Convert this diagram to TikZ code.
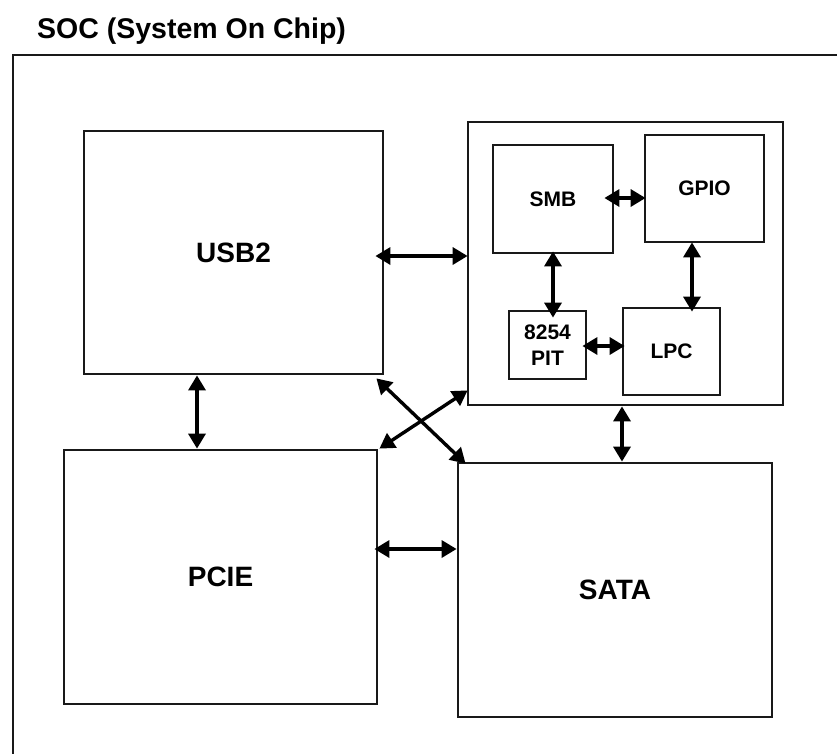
\documentclass[tikz,border=0pt]{standalone}
\usepackage{fontspec}
\setmainfont{Liberation Sans}
\usetikzlibrary{arrows.meta,calc}
\begin{document}
\begin{tikzpicture}[x=1pt,y=-1pt,
  blk/.style={draw=black!90,line width=2.8pt,rectangle,inner sep=0pt,align=center,font=\bfseries\fontsize{28}{30}\selectfont},
  sblk/.style={blk,font=\bfseries\fontsize{21}{26}\selectfont},
  arr/.style={line width=3.4pt,{Triangle[length=15pt,width=17pt]}-{Triangle[length=15pt,width=17pt]}},
  ttl/.style={font=\bfseries\fontsize{28.5}{30}\selectfont,inner sep=0pt,anchor=base west}]
\useasboundingbox (0,0) rectangle (837,753);
% outer SOC frame (runs off the page at right and bottom)
\coordinate (ob) at (13,756);
\coordinate (oc) at (13,55);
\coordinate (or) at (840,55);
\draw[line width=2.8pt,draw=black!90] (ob) -- (oc) -- (or);
\node[ttl] (title) at (37,38) {SOC (System On Chip)};
% main blocks
\node[blk,minimum width=299pt,minimum height=243pt] (usb) at (233.5,252.5) {USB2};
\node[blk,minimum width=315pt,minimum height=283pt] (grp) at (625.5,263.5) {};
\node[blk,minimum width=313pt,minimum height=254pt] (pcie) at (220.5,577) {PCIE};
\node[blk,minimum width=314pt,minimum height=254pt] (sata) at (615,590) {SATA};
% inner blocks
\node[sblk,minimum width=120pt,minimum height=108pt] (smb) at (553,199) {SMB};
\node[sblk,minimum width=119pt,minimum height=107pt] (gpio) at (704.5,188.5) {GPIO};
\node[sblk,minimum width=77pt,minimum height=68pt] (pit) at (547.5,345) {8254\\PIT};
\node[sblk,minimum width=97pt,minimum height=87pt] (lpc) at (671.5,351.5) {LPC};
% connectors
\draw[arr] ([xshift=-9pt]usb.east |- 0,256) -- ([xshift=1pt]grp.west |- 0,256);
\draw[arr] ([xshift=-4pt]pcie.east |- 0,549) -- (sata.west |- 0,549);
\draw[arr] ([xshift=-10pt]smb.east |- 0,198) -- ([xshift=2pt]gpio.west |- 0,198);
\draw[arr] ([yshift=3pt]smb.south -| 553,0) -- ([yshift=-8pt]pit.north -| 553,0);
\draw[arr] ([yshift=1pt]gpio.south -| 692,0) -- ([yshift=-5pt]lpc.north -| 692,0);
\draw[arr] ([xshift=-5pt]pit.east |- 0,346) -- ([xshift=3pt]lpc.west |- 0,346);
\draw[arr] (grp.south -| 622,0) -- (sata.north -| 622,0);
\draw[arr] (usb.south -| 197,0) -- (pcie.north -| 197,0);
\draw[arr] ($(usb.south east)+(-8,3)$) -- ($(sata.north west)+(9,2)$);
\draw[arr] ($(pcie.north east)+(1,0)$) -- ($(grp.south west)+(1,-16)$);
\end{tikzpicture}
\end{document}
